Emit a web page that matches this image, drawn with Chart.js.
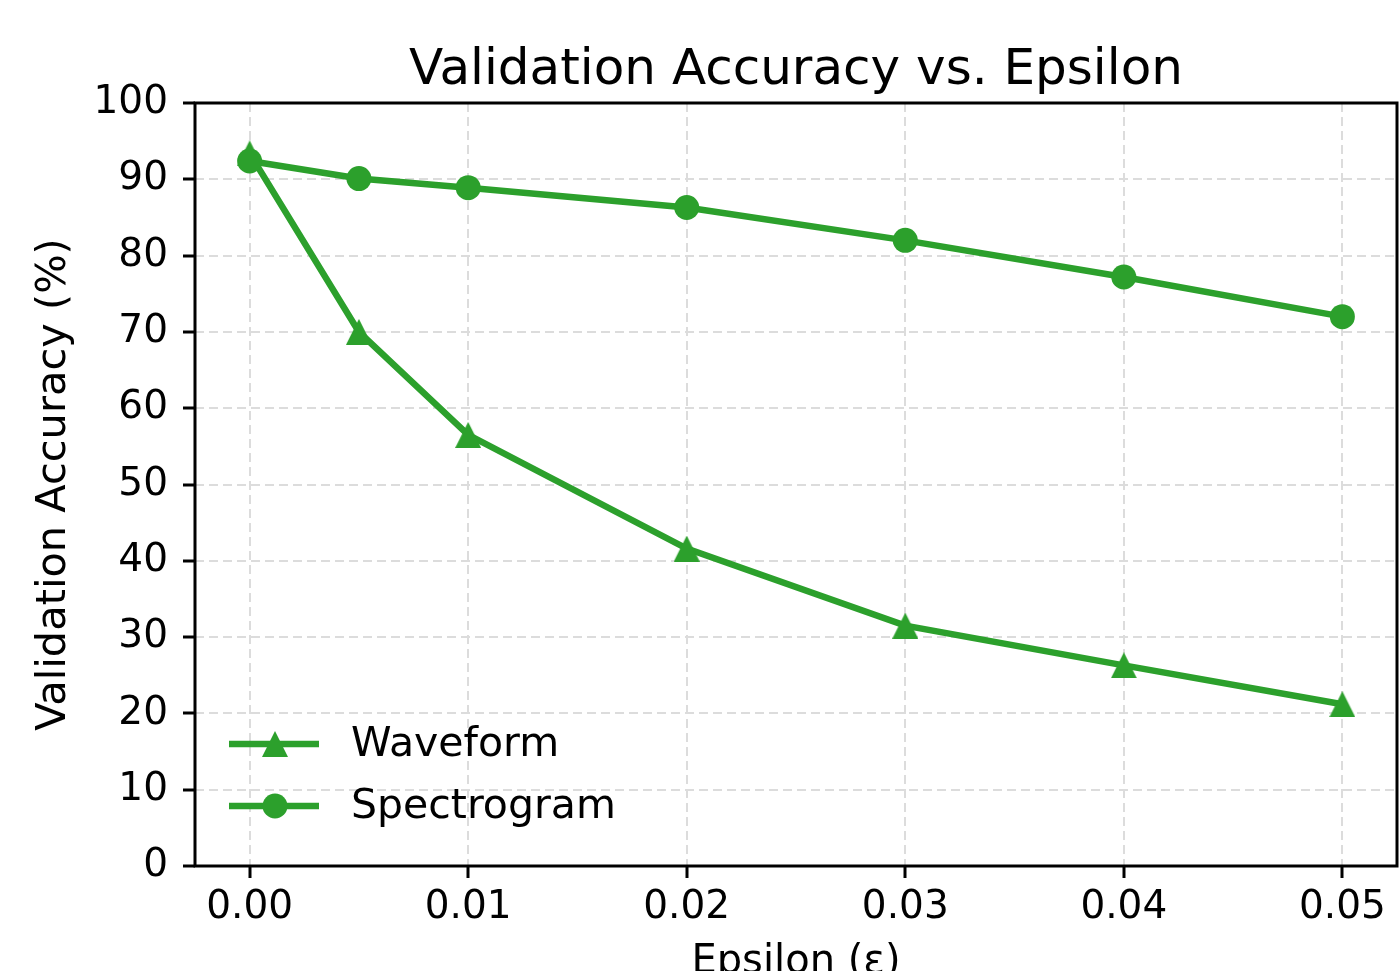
<!DOCTYPE html>
<html>
<head>
<meta charset="utf-8">
<script src="https://cdn.jsdelivr.net/npm/chart.js@4"></script>
<style>
  html, body { margin: 0; padding: 0; background: #fff; overflow: hidden; }
  #chart { display: block; }
</style>
</head>
<body>
<canvas id="chart" width="1400" height="971"></canvas>
<script>
// data
const epsilons = [0, 0.005, 0.01, 0.02, 0.03, 0.04, 0.05];
const waveformAcc = [93.4, 70.0, 56.5, 41.6, 31.5, 26.3, 21.2];
const spectrogramAcc = [92.4, 90.1, 88.9, 86.3, 82.0, 77.2, 72.0];
const xTicks = [0, 0.01, 0.02, 0.03, 0.04, 0.05];
const yTicks = [0, 10, 20, 30, 40, 50, 60, 70, 80, 90, 100];

const green = '#2ca02c';
const font = "'DejaVu Sans', sans-serif";

function toPoints(ys) {
  return epsilons.map((x, i) => ({ x, y: ys[i] }));
}

// matplotlib style "^" marker (as wide as it is tall, centred on the point)
function makeTriangle(size, color) {
  const c = document.createElement('canvas');
  c.width = size;
  c.height = size;
  const g = c.getContext('2d');
  g.fillStyle = color;
  g.beginPath();
  g.moveTo(size / 2, 0);
  g.lineTo(size, size);
  g.lineTo(0, size);
  g.closePath();
  g.fill();
  return c;
}
const triangleMarker = makeTriangle(26, green);

// black box round the plot area, like matplotlib spines
const framePlugin = {
  id: 'frame',
  afterDraw(chart) {
    const { ctx, chartArea: a } = chart;
    ctx.save();
    ctx.strokeStyle = '#000';
    ctx.lineWidth = 3;
    ctx.strokeRect(a.left, a.top, a.right - a.left, a.bottom - a.top);
    ctx.restore();
  }
};

// legend inside the axes, lower left
const legendPlugin = {
  id: 'innerLegend',
  afterDraw(chart) {
    const { ctx } = chart;
    const rows = [744, 806];
    chart.data.datasets.forEach((ds, i) => {
      const y = rows[i];
      ctx.save();
      ctx.strokeStyle = ds.borderColor;
      ctx.lineWidth = ds.borderWidth;
      ctx.beginPath();
      ctx.moveTo(229, y);
      ctx.lineTo(319, y);
      ctx.stroke();
      ctx.fillStyle = ds.pointBackgroundColor;
      Chart.helpers.drawPoint(ctx, {
        pointStyle: ds.pointStyle,
        radius: ds.pointRadius,
        borderWidth: 0,
        rotation: 0
      }, 275, y);
      ctx.fillStyle = '#000';
      ctx.font = '41px ' + font;
      ctx.textBaseline = 'middle';
      ctx.fillText(ds.label, 351, y + 1);
      ctx.restore();
    });
  }
};

const gridOpts = {
  color: '#dcdcdc',
  lineWidth: 2,
  drawTicks: true,
  tickLength: 12,
  tickColor: '#000',
  tickWidth: 3,
  tickBorderDash: []
};

const chart = new Chart(document.getElementById('chart'), {
  type: 'line',
  data: {
    datasets: [
      {
        label: 'Waveform',
        data: toPoints(waveformAcc),
        borderColor: green,
        backgroundColor: green,
        pointBackgroundColor: green,
        pointBorderWidth: 0,
        borderWidth: 6.5,
        pointStyle: triangleMarker,
        pointRadius: 13,
        tension: 0,
        order: 2
      },
      {
        label: 'Spectrogram',
        data: toPoints(spectrogramAcc),
        borderColor: green,
        backgroundColor: green,
        pointBackgroundColor: green,
        pointBorderWidth: 0,
        borderWidth: 6.5,
        pointStyle: 'circle',
        pointRadius: 12.5,
        tension: 0,
        order: 1
      }
    ]
  },
  options: {
    responsive: false,
    animation: false,
    devicePixelRatio: 1,
    clip: false,
    layout: { autoPadding: false, padding: { left: 0, right: 3, top: 0, bottom: 0 } },
    scales: {
      x: {
        type: 'linear',
        min: -0.0025,
        max: 0.0525,
        afterBuildTicks: s => { s.ticks = xTicks.map(v => ({ value: v })); },
        afterFit: s => { s.height = 105; s.paddingLeft = 0; s.paddingRight = 0; },
        ticks: {
          color: '#000',
          font: { family: font, size: 39, lineHeight: 1.2 },
          padding: 6,
          maxRotation: 0,
          autoSkip: false,
          callback: v => v.toFixed(2)
        },
        grid: gridOpts,
        border: { display: false, dash: [9, 5] },
        title: {
          display: true,
          text: 'Epsilon (ε)',
          color: '#000',
          font: { family: font, size: 40, lineHeight: 1.2 },
          padding: { top: 0, bottom: -16 }
        }
      },
      y: {
        type: 'linear',
        min: 0,
        max: 100,
        afterBuildTicks: s => { s.ticks = yTicks.map(v => ({ value: v })); },
        afterFit: s => { s.width = 195; },
        ticks: {
          color: '#000',
          font: { family: font, size: 39, lineHeight: 1.2 },
          padding: 15,
          autoSkip: false
        },
        grid: gridOpts,
        border: { display: false, dash: [9, 5] },
        title: {
          display: true,
          text: 'Validation Accuracy (%)',
          color: '#000',
          font: { family: font, size: 41.5, lineHeight: 1.2 },
          padding: { top: 29, bottom: 0 }
        }
      }
    },
    plugins: {
      legend: { display: false },
      tooltip: { enabled: false },
      title: {
        display: true,
        text: 'Validation Accuracy vs. Epsilon',
        color: '#000',
        fullSize: false,
        font: { family: font, size: 50, weight: 'normal', lineHeight: 1.2 },
        padding: { top: 41, bottom: 2 }
      }
    }
  },
  plugins: [framePlugin, legendPlugin]
});
</script>
</body>
</html>
